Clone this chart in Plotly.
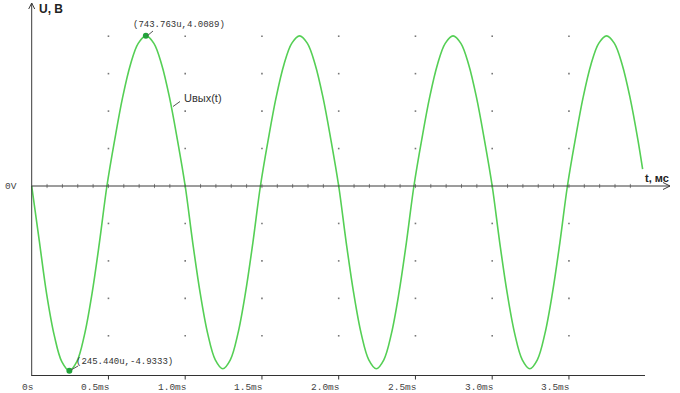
import plotly.graph_objects as go

# ---------------- data ----------------
t_ms = [0.000, 0.049, 0.098, 0.147, 0.196, 0.245, 0.294, 0.343, 0.392, 0.441,
        0.490, 0.541, 0.592, 0.643, 0.694, 0.745, 0.796, 0.847, 0.898, 0.949,
        1.000, 1.049, 1.098, 1.147, 1.196, 1.245, 1.294, 1.343, 1.392, 1.441,
        1.490, 1.541, 1.592, 1.643, 1.694, 1.745, 1.796, 1.847, 1.898, 1.949,
        2.000, 2.049, 2.098, 2.147, 2.196, 2.245, 2.294, 2.343, 2.392, 2.441,
        2.490, 2.541, 2.592, 2.643, 2.694, 2.745, 2.796, 2.847, 2.898, 2.949,
        3.000, 3.049, 3.098, 3.147, 3.196, 3.245, 3.294, 3.343, 3.392, 3.441,
        3.490, 3.541, 3.592, 3.643, 3.694, 3.745, 3.796, 3.847, 3.898, 3.949,
        3.980]
u_out = [0.00, -1.45, -2.90, -3.99, -4.69, -4.93, -4.69, -3.99, -2.90, -1.52,
         0.00, 1.24, 2.36, 3.24, 3.81, 4.01, 3.81, 3.24, 2.36, 1.24,
         0.00, -1.51, -2.87, -3.95, -4.64, -4.88, -4.64, -3.95, -2.87, -1.51,
         0.00, 1.24, 2.36, 3.24, 3.81, 4.01, 3.81, 3.24, 2.36, 1.24,
         0.00, -1.51, -2.87, -3.95, -4.64, -4.88, -4.64, -3.95, -2.87, -1.51,
         0.00, 1.24, 2.36, 3.24, 3.81, 4.01, 3.81, 3.24, 2.36, 1.24,
         0.00, -1.51, -2.87, -3.95, -4.64, -4.88, -4.64, -3.95, -2.87, -1.51,
         0.00, 1.24, 2.36, 3.24, 3.81, 4.01, 3.81, 3.24, 2.36, 1.24,
         0.45]

cursor_t = [0.743763, 0.245440]
cursor_u = [4.0089, -4.9333]
cursor_labels = ["(743.763u,4.0089)", "(245.440u,-4.9333)"]

x_tick_vals = [0.0, 0.5, 1.0, 1.5, 2.0, 2.5, 3.0, 3.5]
x_tick_text = ["0s", "0.5ms", "1.0ms", "1.5ms", "2.0ms", "2.5ms", "3.0ms", "3.5ms"]
grid_volts = [-4, -3, -2, -1, 1, 2, 3, 4]

trace_name = "Uвых(t)"
y_title = "U, B"
x_title = "t, мс"
zero_label = "0V"

# ---------------- geometry helpers ----------------
W, H = 680, 393
X0, PX_PER_MS = 31.7, 153.5
Y0, PX_PER_V = 186.0, 37.45


def tx(px):
    return (px - X0) / PX_PER_MS


def vy(py):
    return (Y0 - py) / PX_PER_V


GREEN = "#55cf55"
AXIS = "#3a3a3a"
MONO = "Liberation Mono, DejaVu Sans Mono, monospace"
SANS = "Liberation Sans, Arial, sans-serif"

fig = go.Figure()

# dotted grid
gx, gy = [], []
for tv in x_tick_vals[1:]:
    for v in grid_volts:
        gx.append(tv)
        gy.append(v)
fig.add_trace(go.Scatter(x=gx, y=gy, mode="markers", hoverinfo="skip",
                         marker=dict(size=1.6, color="#777777", symbol="square",
                                     line=dict(width=0)),
                         showlegend=False))

# minor ticks on the 0V axis
mt = [k / 10 for k in range(1, 40)]
fig.add_trace(go.Scatter(x=mt, y=[0] * len(mt), mode="markers", hoverinfo="skip",
                         marker=dict(symbol="line-ns-open", size=3, color="#8a8a8a",
                                     line=dict(color="#8a8a8a", width=1)),
                         showlegend=False))

# the signal
fig.add_trace(go.Scatter(x=t_ms, y=u_out, mode="lines", name=trace_name,
                         line=dict(color=GREEN, width=1.6, shape="spline", smoothing=1.0),
                         showlegend=False))

# cursor markers
fig.add_trace(go.Scatter(x=cursor_t, y=cursor_u, mode="markers",
                         marker=dict(size=6, color="#22a33a"), showlegend=False))

shapes = []


def line(x0, y0, x1, y1, color=AXIS, width=1):
    shapes.append(dict(type="line", xref="x", yref="y", x0=x0, y0=y0, x1=x1, y1=y1,
                       line=dict(color=color, width=width)))


# y axis with arrow
line(0, vy(376), 0, vy(3))
line(0, vy(3), tx(X0 - 3), vy(9))
line(0, vy(3), tx(X0 + 3), vy(9))
# 0V axis with arrow
line(0, 0, tx(670), 0)
line(tx(670), 0, tx(663), vy(Y0 - 3.5))
line(tx(670), 0, tx(663), vy(Y0 + 3.5))
# bottom axis
yb = vy(375.5)
line(0, yb, tx(645), yb, color="#333333")
for tv in x_tick_vals[1:]:
    line(tv, yb, tv, vy(379.5), color="#333333")
# leader lines
line(tx(147), vy(36), tx(153), vy(31), color="#555555")
line(tx(71), vy(370), tx(78), vy(366), color="#555555")
line(tx(173), vy(106.5), tx(180), vy(101.5), color="#555555")

annotations = []


def text(x, y, s, font, xanchor="left", size=9, color="#333333", bold=False):
    annotations.append(dict(x=x, y=y, xref="x", yref="y", text=("<b>%s</b>" % s) if bold else s,
                            showarrow=False, xanchor=xanchor, yanchor="middle",
                            font=dict(family=font, size=size, color=color)))


for tv, lab in zip(x_tick_vals, x_tick_text):
    text(tv + tx(X0 + 3.5), vy(387), lab, MONO, xanchor="right", size=9.5, color="#444444")
text(tx(3), 0, zero_label, MONO, size=9.5, color="#444444")
text(tx(131), vy(24.5), cursor_labels[0], MONO, size=9, color="#333333")
text(tx(74), vy(362), cursor_labels[1], MONO, size=9, color="#333333")
text(tx(182), vy(97.5), trace_name, SANS, size=11, color="#333333")
text(tx(37), vy(8.5), y_title, SANS, size=12, color="#222222", bold=True)
text(tx(643), vy(178), x_title, SANS, size=11, color="#222222", bold=True)

fig.update_layout(
    width=W, height=H, autosize=False,
    margin=dict(l=0, r=0, t=0, b=0, pad=0),
    paper_bgcolor="white", plot_bgcolor="white",
    xaxis=dict(range=[tx(0), tx(W)], visible=False, fixedrange=True),
    yaxis=dict(range=[vy(H), vy(0)], visible=False, fixedrange=True),
    shapes=shapes, annotations=annotations,
)

fig.write_html("out.html")
